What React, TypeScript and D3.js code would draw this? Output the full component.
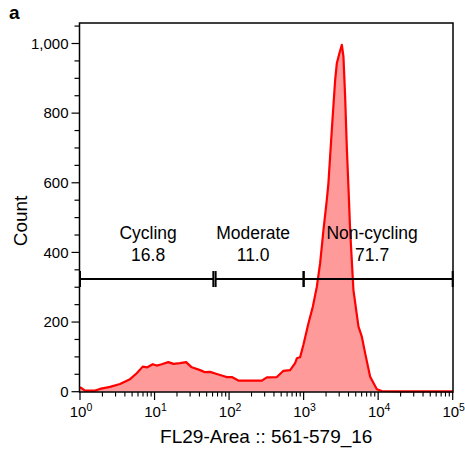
import React from 'react';
import * as d3 from 'd3';

// histogram (FL29-Area, log scale)
const binX = [
  1, 1.17, 1.59, 1.85, 2.53, 3.44, 4.69, 5.77, 6.94, 8.0, 9.46, 10.7, 12.5, 15.3, 17.9, 22.0,
  26.5, 31.6, 40.8, 47.6, 55.6, 68.4, 83.8, 93.1, 109, 133, 275, 321, 437, 536, 659, 769,
  811, 897, 994, 1159, 1328, 1503, 1665, 1845, 2047, 2153, 2389, 2648, 2789, 3022, 3258,
  3423, 3606, 3800, 3993, 4207, 4659, 5445, 6040, 6697, 7810, 9610, 11200, 19700, 100000,
];
const counts = [
  13, 3, 3, 8, 14, 22, 36, 53, 72, 70, 79, 75, 79, 85, 80, 82,
  85, 70, 62, 56, 57, 51, 45, 42, 42, 32, 32, 41, 42, 60, 62, 82,
  96, 99, 135, 196, 244, 301, 369, 464, 551, 600, 752, 895, 943, 972, 996,
  962, 847, 700, 589, 464, 292, 187, 158, 110, 43, 7, 2, 1, 1,
];

const gateNames = ['Cycling', 'Moderate', 'Non-cycling'];
const gatePercents = ['16.8', '11.0', '71.7'];
const gateStart = [1, 66, 1000];
const gateEnd = [61.5, 1000, 100000];
const gateLabelAt = [8.2, 210, 8300];
const gateLevel = 325;

const yTicks = [0, 200, 400, 600, 800, 1000];
const xDecades = [0, 1, 2, 3, 4, 5];

const W = 465;
const H = 452;
const left = 79.5;
const right = 453;
const top = 23;
const bottom = 392;

const font = 'Arial, "Liberation Sans", Helvetica, sans-serif';

export default function App() {
  const x = d3.scaleLog().domain([1, 1e5]).range([80, 452.7]);
  const y = d3.scaleLinear().domain([0, 1000]).range([391.7, 43.5]);

  const pts = binX.map((v, i) => ({ v, c: counts[i] }));
  const area = d3.area<{ v: number; c: number }>()
    .x(d => x(d.v))
    .y0(y(0))
    .y1(d => y(d.c));
  const line = d3.line<{ v: number; c: number }>()
    .x(d => x(d.v))
    .y(d => y(d.c));

  const yMinor = d3.range(50, 1060, 50).filter(v => v % 200 !== 0);
  const xMinor: number[] = [];
  xDecades.slice(0, -1).forEach(d => {
    for (let k = 2; k <= 9; k++) xMinor.push(k * Math.pow(10, d));
  });
  const fmt = d3.format(',');

  return (
    <svg width={W} height={H} style={{ position: 'absolute', left: 0, top: 0, background: '#fff' }}
      fontFamily={font}>
      <text x={9} y={18.5} fontSize={19} fontWeight="bold" fill="#000">a</text>

      {/* histogram */}
      <path d={area(pts) || ''} fill="#ff9a9a" stroke="none" />
      <path d={line(pts) || ''} fill="none" stroke="#ff0000" strokeWidth={2.2} strokeLinejoin="round" />

      {/* frame */}
      <rect x={left} y={top} width={right - left} height={bottom - top} fill="none" stroke="#000" strokeWidth={1.5} />

      {/* y axis */}
      {yTicks.map(t => (
        <g key={'y' + t}>
          <line x1={left - 8} x2={left} y1={y(t)} y2={y(t)} stroke="#000" strokeWidth={1.2} />
          <text x={left - 11} y={y(t)} dy="0.35em" textAnchor="end" fontSize={15} fill="#000">{fmt(t)}</text>
        </g>
      ))}
      {yMinor.map(t => (
        <line key={'ym' + t} x1={left - 5} x2={left} y1={y(t)} y2={y(t)} stroke="#000" strokeWidth={1.2} />
      ))}
      <text transform={`translate(27,221) rotate(-90)`} textAnchor="middle" fontSize={19} fill="#000">Count</text>

      {/* x axis */}
      {xDecades.map(d => (
        <g key={'x' + d}>
          <line x1={x(Math.pow(10, d))} x2={x(Math.pow(10, d))} y1={bottom} y2={bottom + 8} stroke="#000" strokeWidth={1.2} />
          <text x={x(Math.pow(10, d)) + 1} y={417} textAnchor="middle" fontSize={15} fill="#000">
            10<tspan fontSize={10.5} dy={-6}>{d}</tspan>
          </text>
        </g>
      ))}
      {xMinor.map(v => (
        <line key={'xm' + v} x1={x(v)} x2={x(v)} y1={bottom} y2={bottom + 4.5} stroke="#000" strokeWidth={1.1} />
      ))}
      <text x={(left + right) / 2} y={443} textAnchor="middle" fontSize={19} fill="#000">FL29-Area :: 561-579_16</text>

      {/* gates */}
      {gateNames.map((name, i) => {
        const gy = y(gateLevel) + 0.5;
        const x0 = x(gateStart[i]);
        const x1 = x(gateEnd[i]);
        return (
          <g key={name}>
            <line x1={x0} x2={x1} y1={gy} y2={gy} stroke="#000" strokeWidth={2} />
            <line x1={x0} x2={x0} y1={gy - 8} y2={gy + 8} stroke="#000" strokeWidth={2} />
            <line x1={x1} x2={x1} y1={gy - 8} y2={gy + 8} stroke="#000" strokeWidth={2} />
            <text x={x(gateLabelAt[i])} y={238.5} textAnchor="middle" fontSize={17.5} fill="#000">{name}</text>
            <text x={x(gateLabelAt[i])} y={260.5} textAnchor="middle" fontSize={17.5} fill="#000">{gatePercents[i]}</text>
          </g>
        );
      })}
    </svg>
  );
}
